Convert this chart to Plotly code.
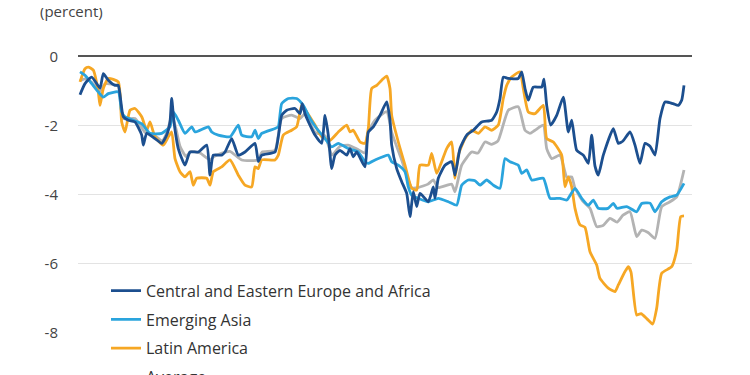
import plotly.graph_objects as go

# time positions (arbitrary monthly-like units) and values (percent)
cee_t = [0, 5, 11.7, 20, 23.3, 28.3, 35, 38.3, 43.3, 48.3, 55, 61.7, 63.3, 66.7, 75, 81.7, 86.7, 90, 91.7, 94,
         98.3, 105, 110, 118.3, 126.7, 130, 133.3, 141.7, 145, 151.7, 158.3, 165, 175, 178.3, 181.7, 195, 198.3,
         201.7, 206.7, 215, 220, 222.3, 225, 230, 235, 241.7, 245, 248.3, 251.7, 255, 260, 266.7, 270, 273.3,
         276.7, 285, 288.3, 293.3, 300, 306.7, 310, 311.7, 316.7, 321.7, 326.7, 330, 333.3, 336.7, 340, 348.3,
         353.3, 355, 358.3, 365, 371.7, 375, 380, 386.7, 393.3, 401.7, 411.7, 416.7, 420, 423.3, 428.3, 438.3,
         441.7, 445, 448.3, 453.3, 461.7, 464, 466.7, 470.7, 476.7, 483.3, 488.3, 491.7, 496.7, 503.3, 508.3,
         511.7, 515, 518.3, 523.3, 533.3, 538.3, 543, 550, 555, 560, 565, 570, 575, 580, 585, 593, 598.3, 601.7, 604]
cee_v = [-1.11, -0.79, -0.6, -0.92, -0.5, -0.69, -0.84, -0.84, -1.75, -1.85, -1.9, -2.28, -2.57, -2.23, -2.38,
         -2.52, -2.28, -1.9, -1.22, -1.9, -2.67, -3.15, -2.77, -2.77, -2.57, -3.44, -2.86, -2.86, -2.77, -2.38,
         -2.86, -2.77, -2.52, -3.05, -2.86, -2.77, -2.33, -1.71, -1.56, -1.51, -1.66, -1.37, -1.66, -1.99, -2.28,
         -2.52, -1.71, -2.28, -3.25, -2.86, -2.72, -2.86, -2.67, -2.91, -2.77, -3.2, -2.19, -2.04, -1.71, -1.32,
         -1.85, -2.57, -3.25, -3.63, -3.97, -4.64, -3.92, -4.35, -3.97, -4.21, -3.78, -4.11, -3.53, -3.15, -3.05,
         -3.44, -2.67, -2.28, -2.14, -1.9, -1.85, -1.61, -1.22, -0.6, -0.64, -0.64, -0.45, -0.93, -1.27, -0.89,
         -0.89, -0.66, -1.42, -1.99, -1.71, -1.18, -2.19, -1.85, -2.72, -2.86, -3.1, -2.28, -3.18, -3.44, -2.86,
         -2.09, -2.52, -2.45, -2.19, -2.57, -3.1, -2.52, -2.6, -2.86, -1.8, -1.32, -1.37, -1.42, -1.27, -0.84]

asia_t = [0, 5, 11.7, 18.3, 23.3, 28.3, 38.3, 41.7, 45, 53.3, 61.7, 70, 81.7, 90, 93.3, 98.3, 105, 111.7, 115,
          128.3, 131.7, 138.3, 150, 158.3, 161.7, 171.7, 175, 178.3, 181.7, 195, 198.3, 201.7, 208.3, 216.7,
          223.3, 230, 236.7, 245, 251.7, 258.3, 268.3, 278.3, 285, 288.3, 295, 308.3, 311.7, 318.3, 325, 328.3,
          331.7, 338.3, 348.3, 358.3, 368.3, 376.7, 381.7, 388.3, 395, 400, 406.7, 413.3, 420, 425, 430, 438.3,
          441.7, 446.7, 451.7, 463.3, 470, 480, 486.7, 495, 501.7, 508.3, 513.3, 518.3, 528, 533.3, 537, 546.7,
          556.7, 561.7, 570, 575, 581.7, 590, 596.7, 604]
asia_v = [-0.45, -0.55, -0.79, -1.03, -1.18, -1.08, -1.03, -1.61, -1.75, -1.85, -1.95, -2.23, -2.23, -2.04,
          -1.61, -1.85, -2.23, -2.04, -2.19, -2.04, -2.19, -2.28, -2.33, -1.99, -2.28, -2.33, -2.14, -2.38, -2.23,
          -2.09, -2.04, -1.37, -1.22, -1.22, -1.42, -1.8, -2.09, -2.38, -2.62, -2.52, -2.67, -2.77, -3.05, -3.1,
          -3.0, -2.86, -3.05, -3.15, -3.34, -3.78, -4.02, -4.11, -4.21, -4.11, -4.21, -4.31, -3.73, -3.58, -3.6,
          -3.73, -3.58, -3.73, -3.82, -2.96, -3.05, -3.15, -3.39, -3.29, -3.58, -3.53, -4.11, -4.11, -4.16, -3.82,
          -4.11, -4.31, -4.16, -4.4, -4.4, -4.26, -4.4, -4.35, -4.5, -4.26, -4.25, -4.5, -4.21, -4.07, -4.02, -3.68]

latam_t = [0, 5, 8.3, 13.3, 18.3, 20, 23.3, 28.3, 38.3, 41.7, 45, 50, 55, 61.7, 66.7, 70, 75, 83.3, 88.3, 91.7,
           95, 100, 105, 110, 113.3, 116.7, 126.7, 130, 133.3, 141.7, 150, 158.3, 165, 171.7, 175, 178.3, 181.7,
           195, 198.3, 203.3, 211.7, 216.7, 221.7, 226.7, 235, 241.7, 250, 258.3, 266.7, 270, 273.3, 280, 285,
           288.3, 291.7, 296.7, 301.7, 306.7, 310, 311.7, 318.3, 325, 331.7, 336.7, 340, 348.3, 351.7, 356.7,
           361.7, 366.7, 371.7, 375, 378.3, 385, 391.7, 398.3, 405, 411.7, 418.3, 423.3, 426.7, 431.7, 440, 443.3,
           448.3, 455, 463.3, 466.7, 473.3, 481.7, 485, 488.3, 491.7, 495, 500, 505, 510, 516.7, 520, 528.3, 535,
           538.3, 545, 548.3, 551, 556.7, 561, 567, 572.7, 576.7, 581.7, 591.7, 596.7, 600.7, 604]
latam_v = [-0.74, -0.36, -0.31, -0.4, -1.03, -1.42, -0.93, -0.64, -0.74, -1.9, -2.19, -1.56, -1.51, -1.75, -2.14,
           -1.9, -2.33, -2.57, -2.33, -2.19, -2.96, -3.34, -3.49, -3.34, -3.73, -3.53, -3.53, -3.73, -3.34, -3.2,
           -3.0, -3.44, -3.73, -3.78, -3.2, -3.25, -3.0, -3.0, -2.86, -2.28, -2.14, -2.04, -1.42, -1.61, -1.99,
           -2.33, -2.43, -2.19, -1.99, -2.19, -2.14, -2.48, -2.52, -2.09, -0.93, -0.84, -0.69, -0.57, -0.93, -1.71,
           -2.48, -3.15, -3.82, -3.87, -3.15, -3.15, -2.81, -3.39, -3.05, -2.67, -2.48, -3.53, -2.86, -2.38, -2.14,
           -2.23, -2.04, -2.14, -1.99, -1.22, -0.84, -0.6, -0.45, -0.93, -1.61, -1.66, -1.42, -2.38, -2.48, -2.86,
           -3.78, -3.49, -3.78, -4.4, -4.88, -4.95, -5.66, -6.04, -6.43, -6.71, -6.81, -6.62, -6.23, -6.09, -6.25,
           -7.49, -7.45, -7.6, -7.75, -7.29, -6.28, -6.09, -5.61, -4.64, -4.62]

avg_t = [0, 5, 11.7, 20, 25, 38, 43, 55, 65, 75, 82, 87, 92, 96, 100, 106, 111, 120, 130, 134, 142, 150, 161.7,
         178, 182, 195, 201.7, 211.7, 220, 225, 235, 245, 252, 260, 268, 278, 285, 288, 295, 306.7, 311.7, 321.7,
         331.7, 338, 348, 353.3, 358, 371.7, 375, 381.7, 391.7, 398, 405, 411.7, 418, 428.3, 438.3, 445, 450,
         455, 463.3, 466.7, 471.7, 480, 486.7, 491.7, 495, 503.3, 510, 516.7, 523, 530, 537, 543, 550, 556.7,
         561.7, 568, 575, 581.7, 590, 596.7, 604]
avg_v = [-0.7, -0.65, -0.75, -1.0, -0.8, -0.85, -1.8, -1.8, -2.2, -2.3, -2.45, -2.2, -1.7, -2.1, -2.6, -2.9,
         -2.75, -2.8, -3.0, -2.9, -2.8, -2.75, -3.0, -3.0, -2.77, -2.72, -1.8, -1.7, -1.8, -1.66, -2.2, -2.3,
         -2.86, -2.6, -2.57, -2.7, -2.8, -2.2, -1.85, -1.6, -2.2, -3.0, -3.8, -3.8, -3.7, -3.58, -3.8, -3.7, -3.92,
         -3.15, -2.77, -2.8, -2.48, -2.55, -2.45, -1.56, -1.46, -2.14, -2.23, -2.14, -1.99, -2.67, -2.96, -2.86,
         -3.49, -3.49, -3.82, -4.21, -4.4, -4.93, -4.9, -4.69, -4.8, -4.6, -4.5, -5.22, -5.03, -5.1, -5.27, -4.35,
         -4.21, -4.07, -3.29]

y_ticks = [0, -2, -4, -6, -8]
y_tick_labels = ["0", "-2", "-4", "-6", "-8"]

names = ["Central and Eastern Europe and Africa", "Emerging Asia", "Latin America", "Average"]
colors = ["#1c4f8f", "#2aa4dd", "#f6a724", "#b3b3b3"]

fig = go.Figure()
series = [
    (avg_t, avg_v, 3),
    (latam_t, latam_v, 2),
    (asia_t, asia_v, 1),
    (cee_t, cee_v, 0),
]
for t, v, i in series:
    fig.add_trace(go.Scatter(
        x=t, y=v, mode="lines", name=names[i], legendgroup=f"g{i}",
        line=dict(color=colors[i], width=2.8, shape="spline", smoothing=0.5),
        legendrank=i + 1,
    ))

fig.update_layout(
    width=750, height=375,
    margin=dict(l=70, r=66, t=48, b=50, autoexpand=False),
    plot_bgcolor="white", paper_bgcolor="white",
    font=dict(family="Open Sans, Lato, sans-serif", color="#333"),
    showlegend=True,
    legend=dict(
        x=0.0456, y=0.214, xanchor="left", yanchor="top",
        bgcolor="white", font=dict(size=16, color="#333"),
        tracegroupgap=5,
    ),
    xaxis=dict(range=[-2, 612], showgrid=False, showticklabels=False, zeroline=False,
               showline=False, ticks=""),
    yaxis=dict(range=[-8.01, 0.01], tickvals=y_ticks, ticktext=y_tick_labels,
               showgrid=True, gridcolor="#e3e3e3", gridwidth=1.3,
               zeroline=True, zerolinecolor="#555555", zerolinewidth=1.6,
               tickfont=dict(size=15, color="#444"), ticks="", ticklabelstandoff=19),
    annotations=[dict(text="(percent)", xref="paper", yref="paper", x=-0.065, y=1.162,
                      xanchor="left", yanchor="middle", showarrow=False,
                      font=dict(size=15, color="#444"))],
)

fig.write_html("out.html")
